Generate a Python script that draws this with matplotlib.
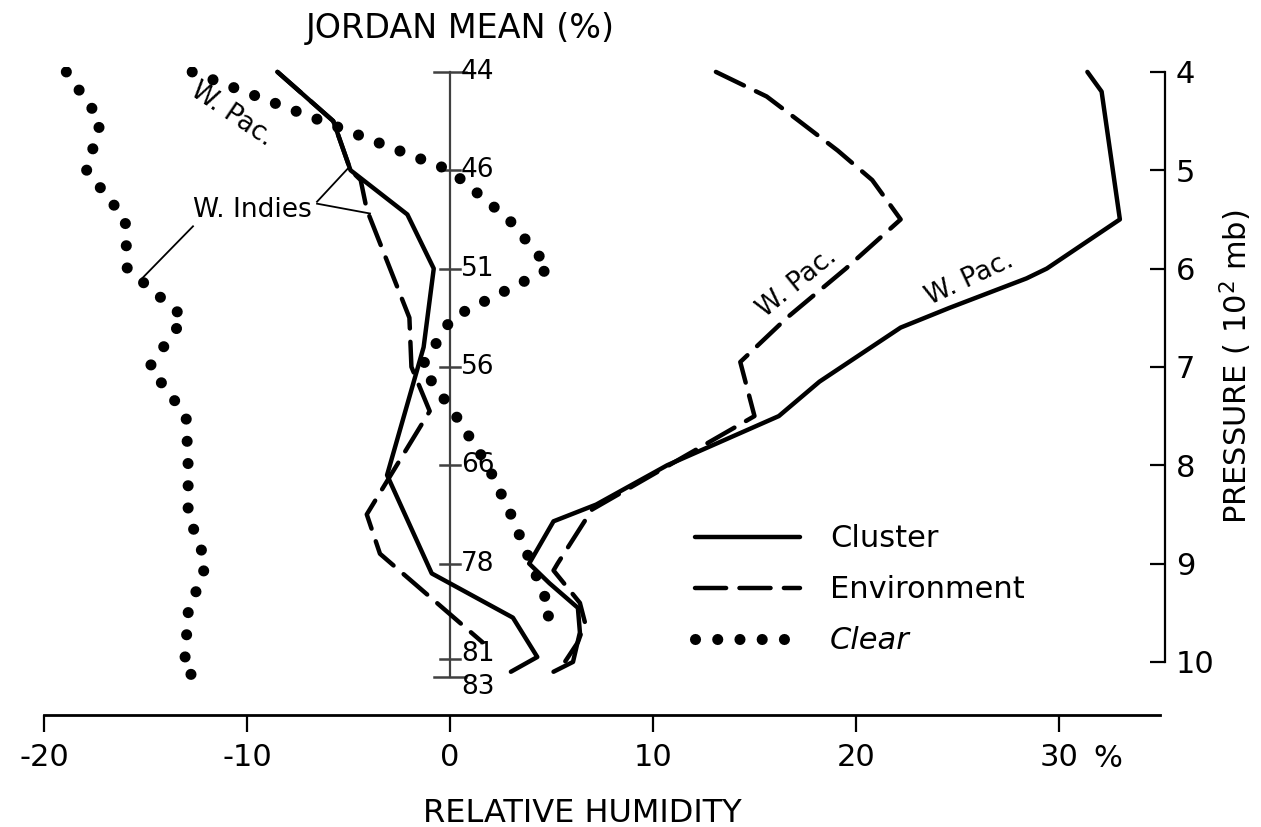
import matplotlib
matplotlib.use("Agg")
import matplotlib.pyplot as plt
from matplotlib.lines import Line2D

plt.rcParams.update({
    "font.family": ["DejaVu Sans"],
    "font.size": 22,
    "axes.linewidth": 2.0,
})

# ---------------------------------------------------------------- data
# pressure in 10^2 mb, relative humidity difference in %
wi_cluster_p = [4.0, 4.5, 5.0, 5.45, 6.0, 6.8, 8.1, 9.1, 9.55, 9.95, 10.1]
wi_cluster_rh = [-8.5, -5.75, -4.9, -2.1, -0.8, -1.3, -3.1, -0.9, 3.1, 4.3, 3.0]

wi_env_p = [4.0, 4.5, 5.0, 5.1, 5.4, 6.5, 7.0, 7.45, 8.5, 8.9, 9.8]
wi_env_rh = [-8.5, -5.75, -4.9, -4.4, -4.1, -2.0, -1.9, -1.0, -4.1, -3.45, 1.6]

wi_clear_p = [4.0, 4.5, 5.0, 5.5, 6.0, 6.5, 7.0, 7.5, 8.0, 8.5, 9.0, 9.5, 10.1, 10.17]
wi_clear_rh = [-18.9, -17.2, -17.9, -16.0, -15.9, -13.1, -14.8, -13.0, -12.9, -12.9,
               -12.0, -12.9, -13.1, -12.2]

wp_cluster_p = [4.0, 4.2, 5.5, 6.0, 6.1, 6.4, 6.6, 7.15, 7.5, 8.0, 8.4, 8.57, 9.0,
                9.2, 9.45, 9.7, 10.0, 10.1]
wp_cluster_rh = [31.4, 32.1, 33.0, 29.4, 28.4, 24.6, 22.2, 18.2, 16.2, 10.7, 7.2, 5.1,
                 3.9, 4.9, 6.3, 6.4, 6.06, 5.1]

wp_env_p = [4.0, 4.25, 4.5, 4.8, 5.1, 5.5, 6.0, 6.5, 6.95, 7.5, 8.45, 9.0, 9.07, 9.4,
            9.6, 9.8, 10.05]
wp_env_rh = [13.1, 15.6, 17.2, 19.1, 20.8, 22.2, 19.5, 16.6, 14.3, 15.0, 7.0, 5.3, 5.1,
             6.4, 6.65, 6.3, 5.5]

wp_clear_p = [4.0, 4.5, 5.0, 5.5, 6.0, 6.5, 7.0, 7.5, 8.0, 8.5, 9.0, 9.5, 9.65]
wp_clear_rh = [-12.7, -6.3, 0.0, 2.9, 4.9, 0.1, -1.4, 0.3, 1.85, 3.0, 4.0, 5.0, 4.3]

jordan_p = [4.0, 5.0, 6.0, 7.0, 8.0, 9.0, 9.97, 10.15]
jordan_labels = ["44", "46", "51", "56", "66", "78", "81", "83"]

x_ticks = [-20, -10, 0, 10, 20, 30]
x_labels = ["-20", "-10", "0", "10", "20", "30"]
p_ticks = [4, 5, 6, 7, 8, 9, 10]

# ---------------------------------------------------------------- styles
SOLID = dict(color="black", lw=3.2, solid_joinstyle="round", solid_capstyle="round")
DASH = dict(color="black", lw=3.2, linestyle=(0, (7.0, 3.0)), dash_capstyle="round")
DOT = dict(color="black", lw=8.0, linestyle=(0, (0.001, 2.0)), dash_capstyle="round")

fig = plt.figure(figsize=(12.61, 8.27), dpi=100)
ax = fig.add_axes([0.0349, 0.1354, 0.8886, 0.7836])
ax.set_xlim(-20, 35.2)
ax.set_ylim(10.54, 3.95)

ax.plot(wi_clear_rh, wi_clear_p, **DOT)
ax.plot(wp_clear_rh, wp_clear_p, **DOT)
ax.plot(wi_env_rh, wi_env_p, **DASH)
ax.plot(wp_env_rh, wp_env_p, **DASH)
ax.plot(wi_cluster_rh, wi_cluster_p, **SOLID)
ax.plot(wp_cluster_rh, wp_cluster_p, **SOLID)

# spines: bottom RH axis, right pressure axis
for s in ("left", "top"):
    ax.spines[s].set_visible(False)
ax.spines["bottom"].set_bounds(-20, 35)
ax.spines["right"].set_bounds(4, 10)
ax.spines["right"].set_linewidth(1.6)
ax.set_xticks(x_ticks, x_labels)
ax.tick_params(axis="x", direction="out", length=12, width=1.6, pad=8, labelsize=22)
ax.yaxis.tick_right()
ax.set_yticks(p_ticks, [str(v) for v in p_ticks])
ax.tick_params(axis="y", direction="in", length=11, width=1.6, pad=8, labelsize=22)
ax.text(32.4, 10.98, "%", ha="center", va="center", fontsize=22, clip_on=False)

# central Jordan-mean axis
ax.plot([0, 0], [4.0, 10.15], color="0.25", lw=1.6, zorder=1)
label_off = {"81": -0.05, "83": 0.1}
for p, lab in zip(jordan_p, jordan_labels):
    half = 0.8 if lab in ("44", "83") else 0.5
    ax.plot([-half, half], [p, p], color="0.25", lw=1.8, zorder=1)
    ax.text(0.55, p + label_off.get(lab, 0.0), lab, ha="left", va="center",
            fontsize=19)

# labels
ax.text(0.5, 3.56, "JORDAN MEAN (%)", ha="center", va="center", fontsize=24,
        clip_on=False)
ax.text(6.5, 11.54, "RELATIVE HUMIDITY", ha="center", va="center", fontsize=23,
        clip_on=False)
ax.text(38.7, 7.0, "PRESSURE ( 10$^2$ mb)", ha="center", va="center", fontsize=22,
        rotation=90, clip_on=False)

ax.text(-10.74, 4.43, "W. Pac.", ha="center", va="center", fontsize=19, rotation=-34)
ax.text(-9.75, 5.40, "W. Indies", ha="center", va="center", fontsize=19)
ax.plot([-6.55, -5.02], [5.32, 4.98], color="black", lw=1.3)
ax.plot([-6.55, -3.94], [5.34, 5.44], color="black", lw=1.3)
ax.plot([-12.66, -15.17], [5.57, 6.10], color="black", lw=1.3)
ax.text(17.1, 6.15, "W. Pac.", ha="center", va="center", fontsize=19, rotation=39)
ax.text(25.6, 6.1, "W. Pac.", ha="center", va="center", fontsize=19, rotation=25)

# legend
handles = [Line2D([], [], **SOLID), Line2D([], [], **DASH), Line2D([], [], **DOT)]
leg = ax.legend(handles, ["Cluster", "Environment", "Clear"], loc="upper left",
                bbox_to_anchor=(0.551, 0.366), bbox_transform=fig.transFigure,
                frameon=False, fontsize=22, handlelength=3.44, handletextpad=0.98,
                labelspacing=0.72, borderpad=0, borderaxespad=0)
leg.get_texts()[2].set_style("italic")

fig.savefig("out.png", dpi=100)
